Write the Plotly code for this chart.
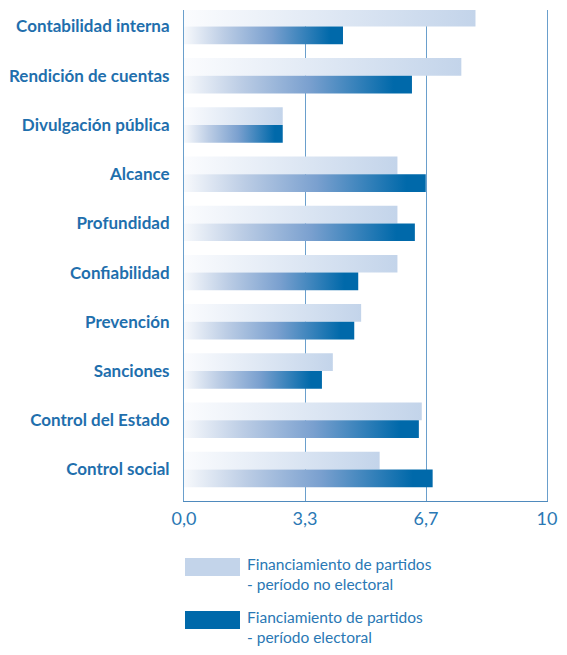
import plotly.graph_objects as go

categories = ["Contabilidad interna", "Rendición de cuentas", "Divulgación pública",
              "Alcance", "Profundidad", "Confiabilidad", "Prevención", "Sanciones",
              "Control del Estado", "Control social"]
no_electoral = [8.03, 7.64, 2.72, 5.88, 5.88, 5.88, 4.88, 4.10, 6.55, 5.39]
electoral = [4.38, 6.28, 2.72, 6.66, 6.36, 4.80, 4.69, 3.80, 6.47, 6.85]
series_names = ["Financiamiento de partidos<br>- período no electoral",
                "Fianciamiento de partidos<br>- período electoral"]
tick_vals = [0, 10/3, 20/3, 10]
tick_text = ["0,0", "3,3", "6,7", "10"]

LIGHT = "#c3d4ea"
DARK = "#0069aa"
TEXT = "#1f6fad"
GRID = "#6a9fcc"

light_scale = [[0, "#fbfcfe"], [1, LIGHT]]
dark_scale = [[0, "#f7f9fc"], [0.25, "#bccde5"], [0.55, "#7aa0cf"], [0.92, DARK], [1, DARK]]

half = 0.36
fig = go.Figure()
for i, cat in enumerate(categories):
    for series, scale, lo in ((no_electoral, light_scale, -half), (electoral, dark_scale, 0.0)):
        v = series[i]
        y0, y1 = i + lo, i + lo + half
        fig.add_trace(go.Scatter(
            x=[0, v, v, 0, 0], y=[y0, y0, y1, y1, y0],
            mode="lines", fill="toself", line=dict(width=0),
            fillgradient=dict(type="horizontal", colorscale=scale),
            showlegend=False, hoveron="fills", name=cat,
        ))

PLOT_W = 363
# page has an 8px body margin on every side; size the figure so the page never scrolls
fig.update_layout(
    width=551, height=639,
    margin=dict(l=176, r=551 - 176 - PLOT_W, t=2, b=146),
    paper_bgcolor="white", plot_bgcolor="white",
    font=dict(family="Lato", color=TEXT),
    xaxis=dict(range=[0, 10], tickvals=tick_vals, ticktext=tick_text,
               showgrid=True, gridcolor=GRID, gridwidth=1, zeroline=False,
               showline=True, linecolor="#4f8abd", linewidth=1,
               tickfont=dict(family="Lato", size=18, color="#2a78b4"),
               ticks="", ticklabelstandoff=1, ticklabeloverflow="allow"),
    yaxis=dict(range=[9.64, -0.335], tickvals=list(range(len(categories))),
               ticktext=categories, showgrid=False, zeroline=False,
               showline=True, mirror=True, linecolor=GRID, linewidth=1,
               tickfont=dict(family="Lato", size=17, color=TEXT, weight="bold"),
               ticks="", ticklabelstandoff=10),
)

def px(xp):
    return (xp - 184) / PLOT_W

def py(yp):
    return (501 - yp) / 491

# legend (manual, large swatches)
for k, (name, col) in enumerate(zip(series_names, [LIGHT, DARK])):
    ytop = 558 + 53 * k
    fig.add_shape(type="rect", xref="paper", yref="paper",
                  x0=px(185), x1=px(240), y0=py(ytop), y1=py(ytop + 18),
                  fillcolor=col, line=dict(width=0))
    fig.add_annotation(xref="paper", yref="paper", x=px(246),
                       y=py(ytop - 4), xanchor="left", yanchor="top",
                       text=name, showarrow=False, align="left", borderpad=0,
                       font=dict(family="Lato", size=15.5, color="#2a78b4"))

fig.write_html("out.html")
